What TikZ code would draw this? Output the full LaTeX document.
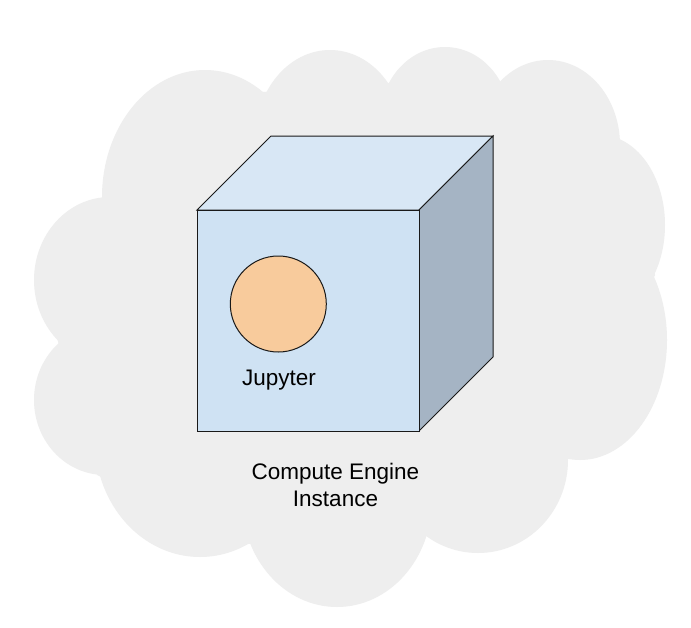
\documentclass[tikz,border=0pt]{standalone}
\usepackage{fontspec}
\setmainfont{Liberation Sans}
\definecolor{cloudc}{HTML}{EEEEEE}
\definecolor{frontc}{HTML}{CFE2F3}
\definecolor{topc}{HTML}{D8E7F5}
\definecolor{sidec}{HTML}{A5B4C4}
\definecolor{circc}{HTML}{F8CB9C}
\tikzset{
  bump/.style={fill=cloudc},
  face/.style={draw=black!90, line width=1pt, line join=miter},
  lbl/.style={font=\fontsize{22.5}{27}\selectfont, align=center, inner sep=0pt, text=black}
}
\begin{document}
\begin{tikzpicture}[x=1pt,y=-1pt]
\useasboundingbox (0,0) rectangle (691,627);
\fill[white] (0,0) rectangle (691,627);
% cloud as union of filled ellipses
\fill[bump] (102,197) -- (263,92) -- (389,83) -- (498,83) -- (618,138) -- (655,275) -- (567,460) -- (427,532) -- (247,544) -- (97,475) -- (57,338) -- cycle;
\fill[bump] (205,197) ellipse [x radius=103pt, y radius=127pt];
\fill[bump] (330,140) ellipse [x radius=75pt, y radius=90pt];
\fill[bump] (445,120) ellipse [x radius=65pt, y radius=73pt];
\fill[bump] (548,145) ellipse [x radius=72pt, y radius=85pt];
\fill[bump] (600,225) ellipse [x radius=65pt, y radius=90pt];
\fill[bump] (580,340) ellipse [x radius=87pt, y radius=120pt];
\fill[bump] (478,460) ellipse [x radius=90pt, y radius=93pt];
\fill[bump] (337,500) ellipse [x radius=95pt, y radius=107pt];
\fill[bump] (200,440) ellipse [x radius=105pt, y radius=117pt];
\fill[bump] (105,400) ellipse [x radius=71pt, y radius=75pt];
\fill[bump] (110,280) ellipse [x radius=76pt, y radius=83pt];
% cube
\coordinate (ftl) at (197,210);
\coordinate (ftr) at (419,210);
\coordinate (fbr) at (419,431);
\coordinate (fbl) at (197,431);
\coordinate (btl) at (271,136);
\coordinate (btr) at (493,136);
\coordinate (bbr) at (493,357);
\filldraw[face, fill=topc] (ftl) -- (btl) -- (btr) -- (ftr) -- cycle;
\filldraw[face, fill=sidec] (ftr) -- (btr) -- (bbr) -- (fbr) -- cycle;
\filldraw[face, fill=frontc] (ftl) -- (ftr) -- (fbr) -- (fbl) -- cycle;
% jupyter
\node[circle, draw=black!90, line width=1pt, fill=circc, minimum size=96pt, inner sep=0pt] (jup) at (278.3,304) {};
\node[lbl] (juplabel) at (279,380) {Jupyter};
\node[lbl] (gce) at (335.5,485) {Compute Engine\\Instance};
\end{tikzpicture}
\end{document}
